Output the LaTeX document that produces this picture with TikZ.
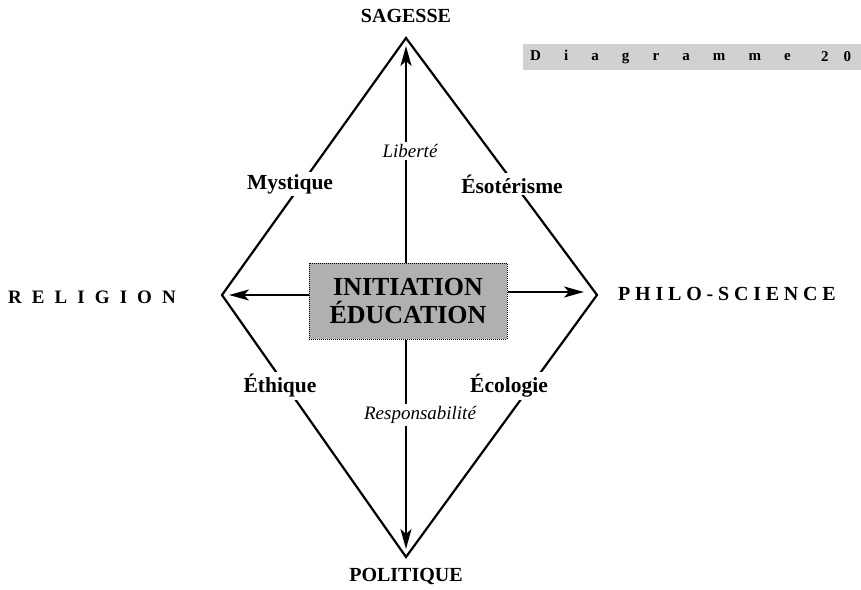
\documentclass[tikz,border=0pt]{standalone}
\usepackage{fontspec}
\setmainfont{Liberation Serif}
\usetikzlibrary{arrows.meta,positioning}

\begin{document}
\begin{tikzpicture}[
    x=1pt, y=-1pt,
    pole/.style={
        font=\fontsize{20}{24}\selectfont\bfseries,
        inner sep=0pt
    },
    edgelabel/.style={
        font=\fontsize{21.5}{25}\selectfont\bfseries,
        fill=white,
        inner sep=2pt
    },
    axislabel/.style={
        font=\fontsize{19}{23}\selectfont\itshape,
        fill=white,
        inner sep=2pt
    },
    centerblock/.style={
        rectangle,
        draw,
        densely dotted,
        line width=1pt,
        fill=black!31,
        minimum width=198pt,
        minimum height=76pt,
        align=center,
        font=\fontsize{26}{30}\selectfont\bfseries
    },
    titleblock/.style={
        rectangle,
        fill=black!18,
        minimum width=338pt,
        minimum height=26pt,
        inner sep=0pt
    },
    diamond line/.style={draw, line width=2.2pt, line join=miter},
    line/.style={draw, line width=2pt, -{Stealth[length=20pt,width=11pt,inset=5pt]}}
]
\useasboundingbox (0,0) rectangle (861,589);

% Corners of the diamond
\coordinate (top) at (406,38);
\coordinate (bottom) at (406,557);
\coordinate (left) at (222,295);
\coordinate (right) at (597,295);

% Diamond
\draw [diamond line] (top) -- (right) -- (bottom) -- (left) -- cycle;

% Central block
\node [centerblock] (centre) at (408,301) {INITIATION\\[-2pt]ÉDUCATION};

% Arrows from the centre
\coordinate (top tip) at (406,46);
\coordinate (bottom tip) at (406,549);
\coordinate (left tip) at (229,295);
\coordinate (right tip) at (584,292);
\draw [line] (centre.north -| top) -- (top tip);
\draw [line] (centre.south -| bottom) -- (bottom tip);
\draw [line] (centre.west |- left) -- (left tip);
\draw [line] (centre.east |- right tip) -- (right tip);

% Axis labels
\node [axislabel] (liberte) at (410,151) {Liberté};
\node [axislabel] (resp) at (420,415) {Responsabilité};

% Edge labels
\node [edgelabel] (mystique) at (290,184) {Mystique};
\node [edgelabel] (esoterisme) at (512,184) {Ésotérisme};
\node [edgelabel] (ethique) at (280,386) {Éthique};
\node [edgelabel] (ecologie) at (509,386) {Écologie};

% Poles
\node [pole] (sagesse) at (406,16) {SAGESSE};
\node [pole] (politique) at (406,576) {POLITIQUE};
\node [pole, anchor=west, font=\fontsize{19}{23}\selectfont\bfseries\addfontfeature{LetterSpace=53}] (religion) at (8,297) {RELIGION};
\node [pole, anchor=west, font=\fontsize{20}{24}\selectfont\bfseries\addfontfeature{LetterSpace=24}] (philo) at (618,294) {PHILO-SCIENCE};

% Title box
\node [titleblock, anchor=west] (title) at (523,57) {};
\node [anchor=west, inner sep=0pt, font=\fontsize{15}{18}\selectfont\bfseries\addfontfeature{LetterSpace=154}] (titleword) at (530,57) {Diagramme};
\node [anchor=west, inner sep=0pt, font=\fontsize{15}{18}\selectfont\bfseries\addfontfeature{LetterSpace=100}] (titlenum) at (821,57) {20};

\end{tikzpicture}
\end{document}
